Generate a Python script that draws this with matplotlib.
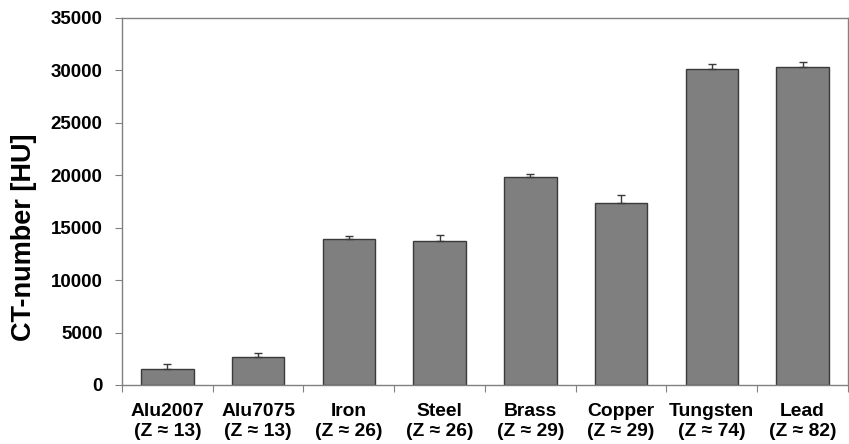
import numpy as np
import matplotlib.pyplot as plt

plt.rcParams['font.family'] = ['Liberation Sans', 'DejaVu Sans']
plt.rcParams['font.weight'] = 'bold'

materials = ['Alu2007', 'Alu7075', 'Iron', 'Steel', 'Brass', 'Copper', 'Tungsten', 'Lead']
z_values = [13, 13, 26, 26, 29, 29, 74, 82]
ct_number = [1520, 2640, 13920, 13750, 19800, 17350, 30100, 30300]
ct_err = [500, 450, 250, 550, 300, 730, 480, 500]

labels = [f'{m}\n(Z ≈ {z})' for m, z in zip(materials, z_values)]
x = np.arange(len(materials))

fig = plt.figure(figsize=(8.49, 4.44), dpi=100)
ax = fig.add_axes([0.1437, 0.1329, 0.8551, 0.8266])

ax.bar(x, ct_number, width=0.58, color='#7f7f7f', edgecolor='#3a3a3a', linewidth=1.0, zorder=2)
ax.errorbar(x, ct_number, yerr=[np.zeros(len(ct_err)), ct_err], fmt='none',
            ecolor='#3a3a3a', elinewidth=1.0, capsize=3, capthick=1.0, zorder=3)

ax.set_xlim(-0.5, len(materials) - 0.5)
ax.set_ylim(0, 35000)
ax.set_yticks(np.arange(0, 35001, 5000))
ax.set_yticklabels([str(v) for v in range(0, 35001, 5000)], fontsize=13.5, fontweight='bold')

# category ticks sit between the bars, labels at bar centres
ax.set_xticks(np.arange(-0.5, len(materials)), minor=False)
ax.set_xticklabels([])
ax.set_xticks(x, minor=True)
ax.set_xticklabels(labels, minor=True, fontsize=13.9, fontweight='bold', linespacing=1.24)
ax.tick_params(axis='x', which='minor', length=0, pad=13)
ax.tick_params(axis='x', which='major', length=5, color='#808080', direction='out')
ax.tick_params(axis='y', length=5, color='#808080', direction='out', pad=9)

for side in ['left', 'right', 'top', 'bottom']:
    ax.spines[side].set_color('#808080')
    ax.spines[side].set_linewidth(1.0)

ax.set_ylabel('CT-number [HU]', fontsize=19.5, fontweight='bold', labelpad=9.5, y=0.403)

fig.savefig('out.png', dpi=100)
